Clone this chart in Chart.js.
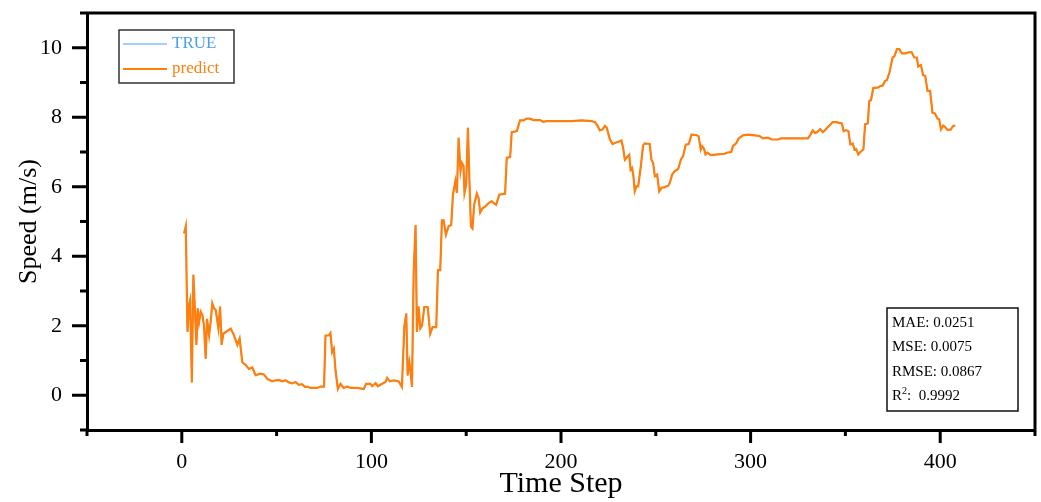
<!DOCTYPE html>
<html lang="en">
<head>
<meta charset="UTF-8">
<title>Speed prediction</title>
<script src="https://cdn.jsdelivr.net/npm/chart.js"></script>
<style>
  html, body { margin: 0; padding: 0; background: #fff; }
  .chart-container { position: relative; width: 1041px; height: 502px; }
</style>
</head>
<body>
<div class="chart-container"><canvas id="speedChart"></canvas></div>
<script>
// time steps of the curve vertices
const timeSteps = [
  1.2, 2.1, 3.0, 3.8, 4.4, 5.3, 6.1, 6.8, 7.7, 8.4, 9.1, 10.0, 10.9, 11.7, 12.6, 13.3, 14.4, 15.2, 16.1, 17.0,
  17.9, 19.3, 20.2, 21.0, 21.9, 23.2, 25.8, 27.5, 29.3, 30.5, 31.9, 33.7, 35.4, 37.2, 38.9, 41.6, 43.3, 45.1, 47.7, 49.5,
  51.2, 53.0, 54.7, 56.5, 58.2, 60.0, 61.7, 63.4, 64.9, 66.2, 67.9, 71.4, 73.2, 75.0, 75.8, 77.5, 78.4, 79.3, 80.2, 81.0,
  82.3, 83.7, 85.4, 87.2, 89.0, 92.5, 96.0, 97.2, 99.5, 100.4, 102.2, 103.4, 105.7, 107.4, 108.3, 109.7, 111.8, 114.4, 116.1, 117.4,
  118.4, 119.1, 120.0, 120.5, 121.4, 122.3, 123.3, 124.0, 124.9, 125.8, 126.7, 127.9, 129.7, 131.0, 132.3, 134.2, 135.1, 136.3, 137.2, 138.1,
  139.3, 140.7, 142.1, 143.0, 144.3, 145.1, 146.0, 147.0, 147.7, 148.6, 149.1, 150.0, 150.9, 151.8, 152.5, 153.3, 154.2, 155.6, 156.5, 157.4,
  158.6, 160.0, 161.8, 163.5, 164.7, 165.8, 167.4, 170.5, 171.4, 173.2, 174.0, 176.7, 178.4, 180.2, 181.9, 183.7, 185.4, 188.9, 190.7, 192.4,
  205.6, 210.8, 216.1, 217.9, 219.3, 220.5, 221.9, 223.2, 224.1, 225.8, 227.2, 228.4, 230.5, 231.9, 232.8, 233.7, 235.1, 236.0, 236.7, 237.5,
  238.2, 238.9, 239.8, 240.7, 242.1, 243.3, 244.2, 246.8, 247.7, 248.6, 249.5, 250.7, 251.8, 253.0, 254.7, 256.5, 257.4, 258.6, 260.0, 261.8,
  263.2, 264.4, 265.8, 267.4, 268.8, 271.4, 272.6, 273.7, 274.4, 275.4, 276.2, 277.2, 279.0, 282.8, 286.3, 287.5, 289.8, 290.7, 292.5, 293.7,
  296.0, 298.6, 302.1, 304.7, 306.5, 309.1, 311.2, 314.4, 316.1, 330.2, 331.6, 332.8, 334.0, 335.1, 336.7, 338.1, 339.3, 340.7, 342.1, 343.3,
  345.1, 346.8, 348.1, 349.1, 350.4, 351.6, 352.6, 353.9, 354.8, 355.6, 356.8, 357.9, 359.5, 360.4, 361.8, 362.6, 363.5, 364.7, 367.4, 368.4,
  369.6, 370.9, 371.9, 373.2, 374.9, 375.8, 377.2, 378.4, 379.8, 381.9, 383.2, 384.9, 386.3, 387.7, 388.4, 389.8, 391.0, 392.1, 393.3, 394.7,
  395.9, 397.2, 398.6, 399.5, 400.4, 401.6, 402.6, 403.9, 405.6, 406.8, 407.9
];
// predicted speed (m/s)
const predictSpeed = [
  4.66, 4.86, 1.82, 2.60, 2.74, 0.37, 3.47, 2.60, 1.45, 2.50, 2.10, 2.40, 2.30, 2.00, 1.05, 2.20, 1.73, 2.10, 2.64, 2.50,
  2.45, 1.92, 2.55, 1.45, 1.77, 1.82, 1.92, 1.73, 1.45, 1.63, 0.95, 0.87, 0.76, 0.80, 0.58, 0.62, 0.60, 0.47, 0.40, 0.43,
  0.44, 0.40, 0.43, 0.37, 0.34, 0.38, 0.30, 0.32, 0.24, 0.25, 0.21, 0.21, 0.25, 0.25, 1.72, 1.72, 1.79, 1.24, 1.34, 0.76,
  0.18, 0.33, 0.21, 0.25, 0.21, 0.21, 0.18, 0.33, 0.33, 0.26, 0.35, 0.26, 0.33, 0.38, 0.50, 0.40, 0.43, 0.40, 0.24, 2.00,
  2.35, 0.57, 0.95, 0.76, 0.24, 3.55, 4.90, 1.82, 2.55, 1.92, 2.00, 2.54, 2.54, 1.77, 1.96, 1.96, 3.60, 3.60, 5.03, 5.03,
  4.62, 4.86, 4.90, 5.77, 6.16, 5.82, 7.41, 6.45, 6.69, 6.60, 5.82, 6.06, 7.70, 6.00, 4.86, 4.80, 5.48, 5.80, 5.68, 5.26,
  5.38, 5.43, 5.53, 5.58, 5.52, 5.48, 5.77, 5.80, 6.83, 6.86, 7.57, 7.60, 7.91, 7.91, 7.96, 7.96, 7.92, 7.92, 7.87, 7.89,
  7.89, 7.91, 7.89, 7.86, 7.75, 7.62, 7.65, 7.75, 7.70, 7.36, 7.23, 7.26, 7.30, 7.33, 7.10, 6.78, 6.87, 6.92, 6.49, 6.54,
  6.30, 5.87, 6.01, 6.01, 6.59, 7.19, 7.25, 7.23, 6.78, 6.68, 6.30, 6.35, 5.87, 5.97, 5.99, 6.03, 6.11, 6.35, 6.45, 6.51,
  6.78, 6.88, 7.21, 7.23, 7.50, 7.49, 7.45, 7.07, 7.17, 7.10, 6.93, 6.98, 6.91, 6.93, 6.95, 6.98, 7.00, 7.17, 7.26, 7.39,
  7.48, 7.50, 7.48, 7.46, 7.39, 7.41, 7.36, 7.36, 7.39, 7.39, 7.50, 7.62, 7.55, 7.57, 7.66, 7.57, 7.63, 7.72, 7.79, 7.86,
  7.86, 7.84, 7.82, 7.60, 7.63, 7.60, 7.22, 7.24, 7.07, 7.09, 6.93, 7.00, 7.07, 7.80, 7.82, 8.47, 8.49, 8.84, 8.86, 8.90,
  8.91, 9.04, 9.07, 9.28, 9.72, 9.75, 9.96, 9.96, 9.84, 9.84, 9.87, 9.87, 9.72, 9.72, 9.46, 9.50, 9.21, 9.19, 8.76, 8.76,
  8.13, 8.11, 7.96, 7.94, 7.65, 7.76, 7.72, 7.63, 7.65, 7.75, 7.76
];
// the TRUE curve sits right under the prediction, only a few blue specks show
const trueSpeed = predictSpeed;

const metricNames = ['MAE', 'MSE', 'RMSE', 'R'];
const metricValues = ['0.0251', '0.0075', '0.0867', '0.9992'];

const FONT = '"Liberation Serif", "Times New Roman", serif';
const BLUE = '#4a9ff0';
const ORANGE = '#ff7f0e';

// fixed axis sizes, and drop the extra label overflow padding chart.js adds
function fixX(s) {
    s.height = 72;
    s.paddingLeft = s.paddingRight = s.paddingTop = s.paddingBottom = 0;
}
function fixY(s) {
    s.width = 87;
    s.paddingLeft = s.paddingRight = s.paddingTop = s.paddingBottom = 0;
}

// box on top/right, tick marks, legend and metrics box
const framePlugin = {
    id: 'frame',
    afterDraw(chart) {
        const { ctx, chartArea: a, scales: { x, y } } = chart;
        ctx.save();
        ctx.strokeStyle = '#000';
        ctx.lineWidth = 3;
        ctx.beginPath();
        ctx.moveTo(a.left - 1.5, a.top);
        ctx.lineTo(a.right, a.top);
        ctx.lineTo(a.right, a.bottom + 1.5);
        x.ticks.forEach(t => {
            const px = x.getPixelForValue(t.value);
            const len = t.value % 100 === 0 ? 13 : 6;
            ctx.moveTo(px, a.bottom);
            ctx.lineTo(px, a.bottom + len);
        });
        y.ticks.forEach(t => {
            const py = y.getPixelForValue(t.value);
            const major = t.value % 2 === 0 && t.value >= 0 && t.value <= 10;
            ctx.moveTo(a.left, py);
            ctx.lineTo(a.left - (major ? 15 : 7), py);
        });
        ctx.stroke();

        // legend
        const lx = a.left + 32, ly = a.top + 17;
        ctx.lineWidth = 1.5;
        ctx.strokeStyle = '#333';
        ctx.strokeRect(lx, ly, 115, 53);
        ctx.font = '17px ' + FONT;
        ctx.textBaseline = 'middle';
        chart.data.datasets.forEach((ds, i) => {
            const ry = ly + 14 + i * 25;
            ctx.strokeStyle = ds.borderColor;
            ctx.lineWidth = i === 0 ? 1.2 : 2;
            ctx.beginPath();
            ctx.moveTo(lx + 4, ry);
            ctx.lineTo(lx + 48, ry);
            ctx.stroke();
            ctx.fillStyle = ds.borderColor;
            ctx.fillText(ds.label, lx + 53, ry);
        });

        // metrics
        const bx = a.right - 148, by = a.bottom - 122;
        ctx.lineWidth = 1.5;
        ctx.strokeStyle = '#111';
        ctx.strokeRect(bx, by, 131, 103);
        ctx.fillStyle = '#000';
        metricNames.forEach((name, i) => {
            const ty = by + 15 + i * 24.5;
            let tx = bx + 5;
            ctx.font = '15px ' + FONT;
            if (name === 'R') {
                ctx.fillText('R', tx, ty);
                tx += ctx.measureText('R').width;
                ctx.font = '10px ' + FONT;
                ctx.fillText('2', tx, ty - 5);
                tx += ctx.measureText('2').width;
                ctx.font = '15px ' + FONT;
                ctx.fillText(':  ' + metricValues[i], tx, ty);
            } else {
                ctx.fillText(name + ': ' + metricValues[i], tx, ty);
            }
        });
        ctx.restore();
    }
};

const ctx = document.getElementById('speedChart').getContext('2d');
new Chart(ctx, {
    type: 'line',
    data: {
        datasets: [
            {
                label: 'TRUE',
                data: timeSteps.map((t, i) => ({ x: t, y: trueSpeed[i] })),
                borderColor: BLUE,
                borderWidth: 1.2,
                pointRadius: 0,
                tension: 0,
                order: 2
            },
            {
                label: 'predict',
                data: timeSteps.map((t, i) => ({ x: t, y: predictSpeed[i] })),
                borderColor: ORANGE,
                borderWidth: 2.2,
                pointRadius: 0,
                tension: 0,
                order: 1
            }
        ]
    },
    options: {
        responsive: true,
        maintainAspectRatio: false,
        animation: false,
        layout: { padding: { top: 13, right: 6, left: 0, bottom: 0 } },
        plugins: {
            legend: { display: false },
            tooltip: { enabled: false }
        },
        scales: {
            x: {
                type: 'linear',
                min: -50,
                max: 450,
                afterFit: fixX,
                grid: { display: false, drawTicks: false },
                border: { display: true, color: '#000', width: 3 },
                ticks: {
                    stepSize: 50,
                    autoSkip: false,
                    maxRotation: 0,
                    padding: 19,
                    color: '#000',
                    font: { family: FONT, size: 22 },
                    callback: v => (v % 100 === 0 ? v : '')
                },
                title: {
                    display: true,
                    text: 'Time Step',
                    color: '#000',
                    font: { family: FONT, size: 30 },
                    padding: { top: 0, bottom: 0 }
                }
            },
            y: {
                min: -1,
                max: 11,
                afterFit: fixY,
                grid: { display: false, drawTicks: false },
                border: { display: true, color: '#000', width: 3 },
                ticks: {
                    stepSize: 1,
                    autoSkip: false,
                    padding: 25,
                    color: '#000',
                    font: { family: FONT, size: 22 },
                    callback: v => (v % 2 === 0 && v >= 0 && v <= 10 ? v : '')
                },
                title: {
                    display: true,
                    text: 'Speed (m/s)',
                    color: '#000',
                    font: { family: FONT, size: 26 },
                    padding: { top: 14, bottom: 0 }
                }
            }
        }
    },
    plugins: [framePlugin]
});
</script>
</body>
</html>
